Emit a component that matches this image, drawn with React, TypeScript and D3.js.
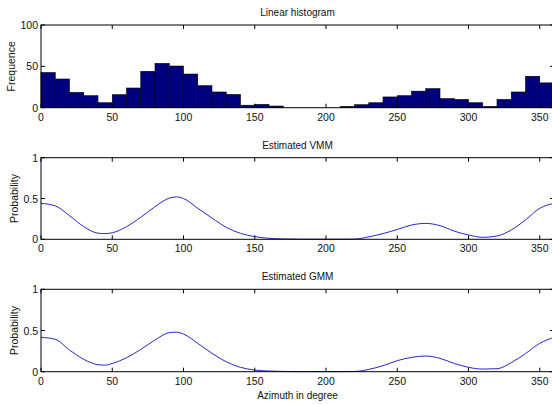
import * as d3 from "d3";
import React from "react";

// histogram bins (10 degree wide), counts
const binStarts = [0, 10, 20, 30, 40, 50, 60, 70, 80, 90, 100, 110, 120, 130, 140, 150, 160, 170,
  180, 190, 200, 210, 220, 230, 240, 250, 260, 270, 280, 290, 300, 310, 320, 330, 340, 350];
const binCounts = [42.5, 34.7, 18.5, 14.5, 6, 15.7, 23.8, 44, 53.6, 50.4, 40.7, 26.6, 19, 16, 3, 4, 2, 0,
  0, 0, 0, 1.6, 3.6, 6, 13, 14.5, 20, 23, 11, 10, 6, 1.6, 10, 19, 38, 30];

// angles where the estimated densities were sampled
const angles = [0, 10, 20, 30, 40, 45, 50, 60, 70, 80, 90, 95, 100, 110, 120, 130, 140, 150, 160, 170,
  180, 190, 200, 210, 220, 230, 240, 250, 260, 270, 280, 290, 300, 310, 320, 330, 340, 350, 360];
const vmmValues = [0.44, 0.41, 0.29, 0.155, 0.075, 0.07, 0.08, 0.155, 0.27, 0.4, 0.505, 0.52, 0.5, 0.38,
  0.26, 0.147, 0.073, 0.033, 0.012, 0.005, 0.002, 0.001, 0.001, 0.001, 0.003, 0.03, 0.07, 0.12, 0.175,
  0.195, 0.167, 0.1, 0.053, 0.024, 0.04, 0.114, 0.237, 0.38, 0.44];
const gmmValues = [0.417, 0.393, 0.263, 0.15, 0.085, 0.08, 0.1, 0.17, 0.27, 0.385, 0.474, 0.48, 0.457,
  0.344, 0.223, 0.12, 0.053, 0.02, 0.008, 0.003, 0.001, 0.001, 0.001, 0.001, 0.003, 0.028, 0.073, 0.134,
  0.174, 0.19, 0.162, 0.1, 0.053, 0.032, 0.036, 0.11, 0.22, 0.344, 0.417];

const xTicks = [0, 50, 100, 150, 200, 250, 300, 350];
const histTicks = [0, 50, 100];
const probTicks = [0, 0.5, 1];

const W = 552;
const H = 404;
const font = "'Liberation Sans', Arial, sans-serif";
const left = 41;
const right = 554;

const x = d3.scaleLinear().domain([0, 360]).range([left, right]);

type PanelProps = {
  top: number;
  bottom: number;
  yMax: number;
  yTicks: number[];
  title: string;
  yLabel: string;
  children: (y: d3.ScaleLinear<number, number>) => React.ReactNode;
};

const Panel = ({ top, bottom, yMax, yTicks, title, yLabel, children }: PanelProps) => {
  const y = d3.scaleLinear().domain([0, yMax]).range([bottom, top]);
  const tl = 4;
  return (
    <g>
      <rect x={left} y={top} width={right - left} height={bottom - top} fill="#fff" />
      {children(y)}
      {/* box */}
      <rect x={left} y={top} width={right - left} height={bottom - top} fill="none" stroke="#000" strokeWidth={1} />
      {xTicks.map((t) => (
        <g key={t}>
          <line x1={x(t)} x2={x(t)} y1={bottom} y2={bottom - tl} stroke="#000" />
          <line x1={x(t)} x2={x(t)} y1={top} y2={top + tl} stroke="#000" />
          <text x={x(t)} y={bottom + 13} textAnchor="middle" fontSize={10.5} fontFamily={font} fill="#111">
            {t}
          </text>
        </g>
      ))}
      {yTicks.map((t) => (
        <g key={t}>
          <line x1={left} x2={left + tl} y1={y(t)} y2={y(t)} stroke="#000" />
          <line x1={right} x2={right - tl} y1={y(t)} y2={y(t)} stroke="#000" />
          <text x={left - 3} y={y(t) + 4} textAnchor="end" fontSize={10.5} fontFamily={font} fill="#111">
            {t}
          </text>
        </g>
      ))}
      <text x={(left + right) / 2} y={top - 9} textAnchor="middle" fontSize={10} fontFamily={font} fill="#111">
        {title}
      </text>
      <text
        transform={`translate(${yLabel === "Frequence" ? 15 : 18},${(top + bottom) / 2}) rotate(-90)`}
        textAnchor="middle"
        fontSize={10.5}
        fontFamily={font}
        fill="#111"
      >
        {yLabel}
      </text>
    </g>
  );
};

const curvePath = (vals: number[], y: d3.ScaleLinear<number, number>) =>
  d3
    .line<number>()
    .x((_, i) => x(angles[i]))
    .y((d) => y(d))
    .curve(d3.curveMonotoneX)(vals) || "";

export default function App() {
  const binW = 10;
  return (
    <svg width={W} height={H} style={{ position: "absolute", left: 0, top: 0, background: "#fff" }}>
      <Panel top={25} bottom={107.7} yMax={100} yTicks={histTicks} title="Linear histogram" yLabel="Frequence">
        {(y) =>
          binStarts.map((b, i) => (
            <rect
              key={b}
              x={x(b)}
              y={y(binCounts[i])}
              width={x(b + binW) - x(b)}
              height={y(0) - y(binCounts[i])}
              fill="#00007f"
              stroke="#000"
              strokeWidth={0.6}
            />
          ))
        }
      </Panel>
      <Panel top={157.7} bottom={239.3} yMax={1} yTicks={probTicks} title="Estimated VMM" yLabel="Probability">
        {(y) => <path d={curvePath(vmmValues, y)} fill="none" stroke="#2626c8" strokeWidth={1} />}
      </Panel>
      <Panel top={289.3} bottom={371.7} yMax={1} yTicks={probTicks} title="Estimated GMM" yLabel="Probability">
        {(y) => <path d={curvePath(gmmValues, y)} fill="none" stroke="#2626c8" strokeWidth={1} />}
      </Panel>
      <text x={(left + right) / 2} y={399} textAnchor="middle" fontSize={10} fontFamily={font} fill="#111">
        Azimuth in degree
      </text>
    </svg>
  );
}
